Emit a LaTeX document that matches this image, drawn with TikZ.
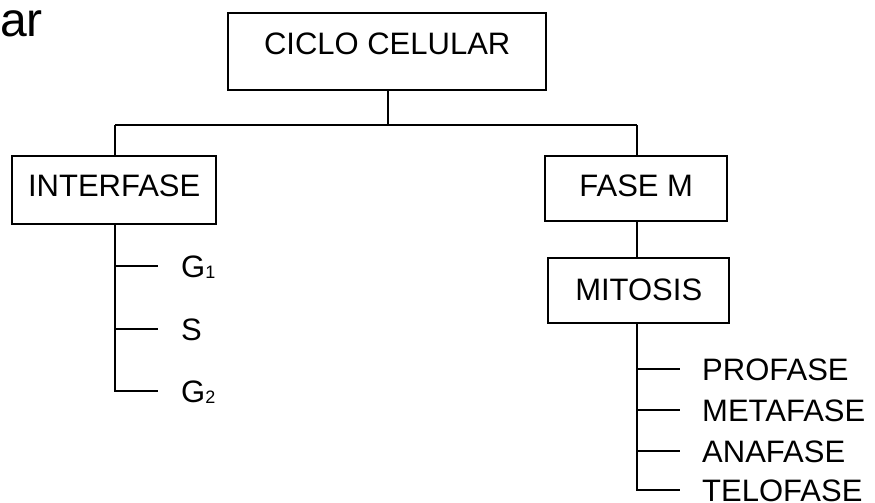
\documentclass[tikz,border=0pt]{standalone}
\usepackage{fontspec}
\setmainfont{Liberation Sans}
\begin{document}
\begin{tikzpicture}[x=1pt,y=-1pt,
  box/.style={draw,line width=2.4pt,inner sep=0pt,anchor=north west,font=\fontsize{31}{31}\selectfont},
  leaf/.style={inner sep=0pt,anchor=west,text height=22pt,text depth=0pt,font=\fontsize{31}{31}\selectfont},
  conn/.style={line width=2.4pt}]
\useasboundingbox (0,0) rectangle (875,503);
\node[anchor=base west,inner sep=0pt,font=\fontsize{48}{48}\selectfont] (title) at (0,37) {ar};
\node[box,minimum width=318pt,text height=41pt,text depth=36pt] (ciclo) at (227,12) {CICLO CELULAR};
\node[box,minimum width=204pt,text height=40pt,text depth=28pt] (inter) at (11,155) {INTERFASE};
\node[box,minimum width=182pt,text height=40pt,text depth=25pt] (fasem) at (544,155) {FASE M};
\node[box,minimum width=181pt,text height=42pt,text depth=23pt] (mitosis) at (547,257) {MITOSIS};
\coordinate (lbus) at (115,125);
\coordinate (rbus) at (637,125);
\coordinate (cbus) at (388,125);
\draw[conn] (lbus) -- (rbus);
\draw[conn] (ciclo.south -| cbus) -- (cbus);
\draw[conn] (lbus) -- (lbus |- inter.north);
\draw[conn] (rbus) -- (rbus |- fasem.north);
\draw[conn] (rbus |- fasem.south) -- (rbus |- mitosis.north);
% left leaves
\newcommand{\subd}[1]{\raisebox{-1pt}{\fontsize{18}{18}\selectfont #1}}
\node[leaf] (g1) at (181,266) {G\subd{1}};
\node[leaf] (s) at (181,329) {S};
\node[leaf] (g2) at (181,391) {G\subd{2}};
\draw[conn] (lbus |- inter.south) -- (lbus |- g2.west) -- ([xshift=-23pt]g2.west);
\draw[conn] (lbus |- g1.west) -- ([xshift=-23pt]g1.west);
\draw[conn] (lbus |- s.west) -- ([xshift=-23pt]s.west);
% right leaves
\node[leaf] (pro) at (702,369) {PROFASE};
\node[leaf] (meta) at (702,410) {METAFASE};
\node[leaf] (ana) at (702,451) {ANAFASE};
\node[leaf] (telo) at (702,490) {TELOFASE};
\draw[conn] (rbus |- mitosis.south) -- (rbus |- telo.west) -- ([xshift=-22pt]telo.west);
\draw[conn] (rbus |- pro.west) -- ([xshift=-22pt]pro.west);
\draw[conn] (rbus |- meta.west) -- ([xshift=-22pt]meta.west);
\draw[conn] (rbus |- ana.west) -- ([xshift=-22pt]ana.west);
\end{tikzpicture}
\end{document}
